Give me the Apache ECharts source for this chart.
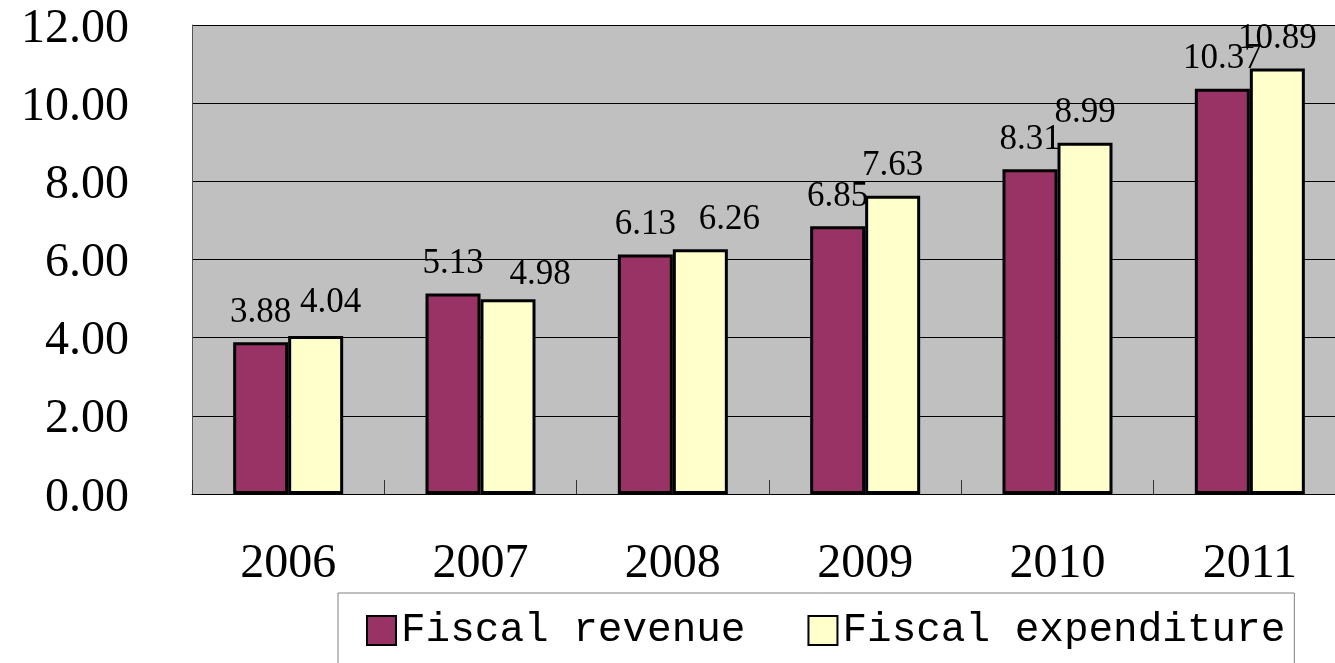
<!DOCTYPE html>
<html>
<head>
<meta charset="utf-8">
<script src="https://cdn.jsdelivr.net/npm/echarts@6/dist/echarts.min.js"></script>
<style>
  html, body { margin: 0; padding: 0; background: #ffffff; }
  #chart { width: 1335px; height: 663px; }
</style>
</head>
<body>
<div id="chart"></div>
<script>
// Fiscal revenue and expenditure by year
const categories = ['2006', '2007', '2008', '2009', '2010', '2011'];
const revenue = [3.88, 5.13, 6.13, 6.85, 8.31, 10.37];
const expenditure = [4.04, 4.98, 6.26, 7.63, 8.99, 10.89];
const seriesNames = ['Fiscal revenue', 'Fiscal expenditure'];

// value labels on crowded expenditure bars are nudged aside [dx, dy]
const expenditureLabelNudge = [[15, -4], [32, 5], [29, 0], [0, 0], [0, 0], [0, 0]];

const numFont = 'Liberation Serif';
const chart = echarts.init(document.getElementById('chart'), null, { renderer: 'canvas' });

const barLabel = {
  show: true,
  position: 'top',
  distance: 12,
  fontFamily: numFont,
  fontSize: 35,
  color: '#000',
  formatter: p => Number(p.value).toFixed(2)
};

chart.setOption({
  animation: false,
  backgroundColor: '#ffffff',
  // plot area runs slightly past the right edge of the canvas
  grid: {
    left: 192, top: 25, width: 1154, bottom: 169,
    outerBoundsMode: 'none',
    containLabel: false,
    show: true, backgroundColor: '#C0C0C0', borderWidth: 0
  },
  xAxis: {
    type: 'category',
    data: categories,
    boundaryGap: true,
    axisLine: { show: true, lineStyle: { color: '#000', width: 1 } },
    axisTick: { show: true, inside: true, length: 14, lineStyle: { color: '#333' } },
    axisLabel: { margin: 46, fontFamily: numFont, fontSize: 48, color: '#000' },
    splitLine: { show: false }
  },
  yAxis: {
    type: 'value',
    min: 0, max: 12, interval: 2,
    axisLine: { show: true, lineStyle: { color: '#555', width: 1 } },
    axisTick: { show: false },
    axisLabel: {
      margin: 63, color: '#000',
      formatter: v => '{v|' + v.toFixed(2) + '}',
      rich: {
        v: { fontFamily: numFont, fontSize: 48, color: '#000', padding: [8, 0, 0, 0] }
      }
    },
    splitLine: { show: true, lineStyle: { color: '#000', width: 1 } }
  },
  legend: {
    data: seriesNames,
    left: 338, top: 593,
    orient: 'horizontal',
    icon: 'rect',
    itemWidth: 29, itemHeight: 29,
    itemGap: 62,
    padding: [17, 9, 40, 28],
    borderColor: '#808080', borderWidth: 1,
    textStyle: { fontFamily: 'Liberation Mono', fontSize: 41, color: '#000' }
  },
  series: [
    {
      name: seriesNames[0],
      type: 'bar',
      data: revenue,
      barWidth: 55,
      barGap: '0%',
      itemStyle: { color: '#993366', borderColor: '#000', borderWidth: 3 },
      label: barLabel
    },
    {
      name: seriesNames[1],
      type: 'bar',
      data: expenditure.map((v, i) => ({ value: v, label: { offset: expenditureLabelNudge[i] } })),
      barWidth: 55,
      itemStyle: { color: '#FFFFCC', borderColor: '#000', borderWidth: 3 },
      label: barLabel
    }
  ]
});
</script>
</body>
</html>
